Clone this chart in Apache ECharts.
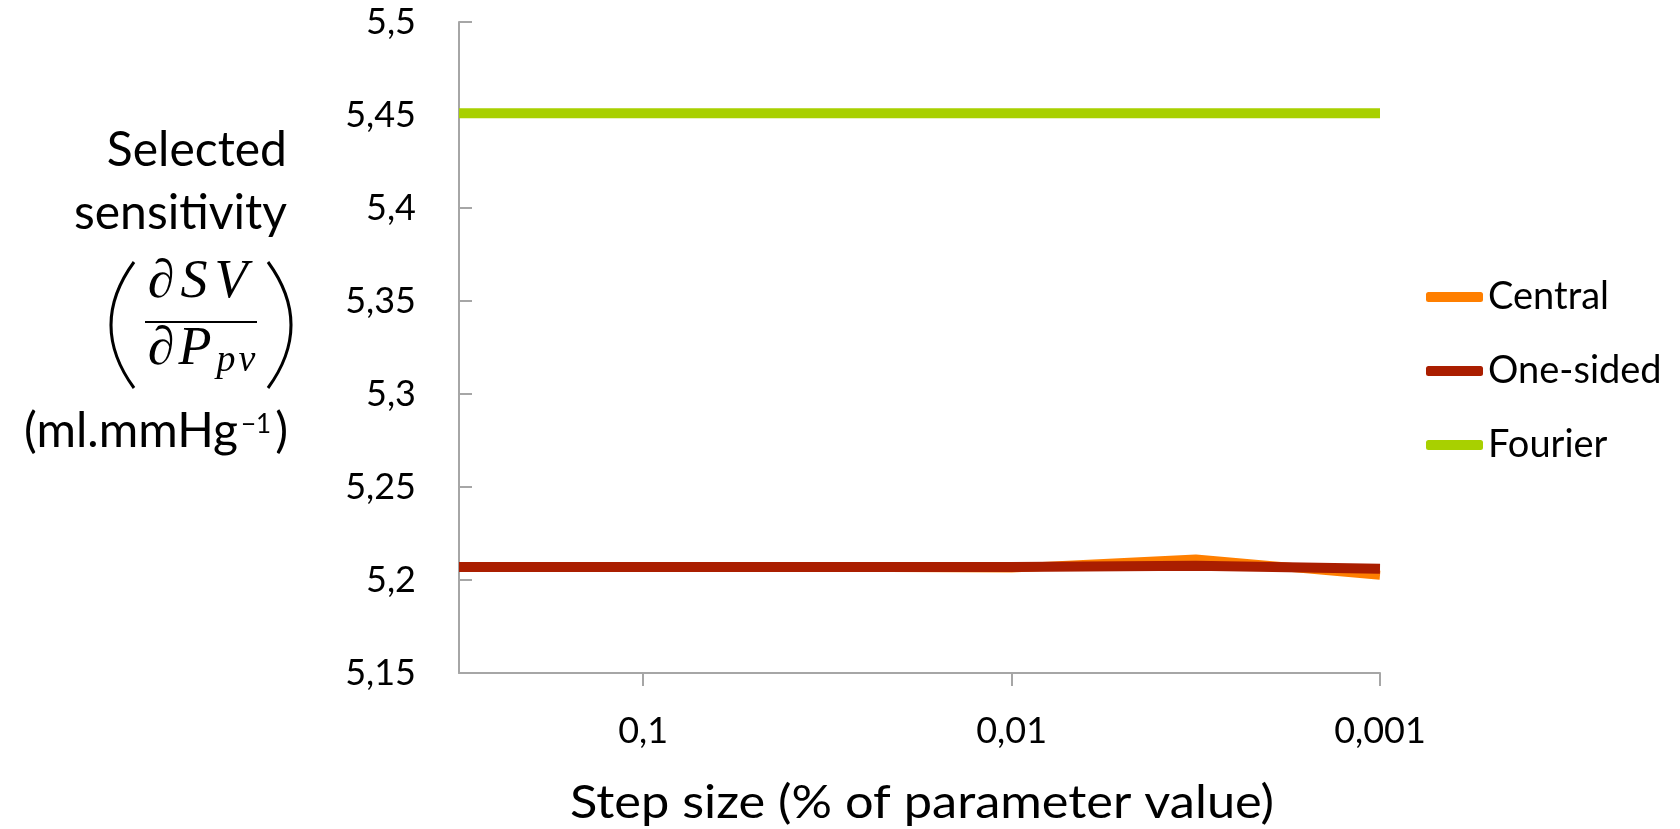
<!DOCTYPE html>
<html>
<head>
<meta charset="utf-8">
<script src="https://cdn.jsdelivr.net/npm/echarts@6/dist/echarts.min.js"></script>
<style>
html,body{margin:0;padding:0;background:#fff;}
#chart{width:1680px;height:829px;}
</style>
</head>
<body>
<div id="chart"></div>
<script>
// Step sizes (% of parameter value), evenly spaced categories
const categories = ['0,5', '0,1', '0,05', '0,01', '0,005', '0,001'];
const central  = [5.207, 5.207, 5.2068, 5.2064, 5.2113, 5.2025];
const oneSided = [5.207, 5.207, 5.207, 5.207, 5.2076, 5.206];
const fourier  = [5.451, 5.451, 5.451, 5.451, 5.451, 5.451];
const yMin = 5.15, yMax = 5.5, yStep = 0.05;

const FONT = 'Lato';
const SERIF = 'Liberation Serif';
const AXIS_COLOR = '#A6A6A6';

const chart = echarts.init(document.getElementById('chart'));
const fmt = v => parseFloat(v.toFixed(2)).toString().replace('.', ',');

function mathGlyph(ch, x, y, size) {
  return { type: 'text', style: { text: ch, x: x, y: y, align: 'center', verticalAlign: 'middle',
    fontFamily: SERIF, fontStyle: 'italic', fontSize: size, fill: '#000' } };
}

chart.setOption({
  animation: false,
  backgroundColor: '#fff',
  textStyle: { fontFamily: FONT },
  grid: { left: 459, right: 300, top: 22, bottom: 156, containLabel: false },
  legend: {
    orient: 'vertical',
    left: 1421,
    top: 272,
    itemWidth: 57,
    itemHeight: 10,
    itemGap: 34,
    icon: 'roundRect',
    textStyle: { fontFamily: FONT, fontSize: 38, color: '#000', lineHeight: 40 },
    data: ['Central', 'One-sided', 'Fourier']
  },
  xAxis: {
    type: 'category',
    data: categories,
    boundaryGap: false,
    axisLine: { lineStyle: { color: AXIS_COLOR, width: 2 } },
    axisTick: { show: true, length: 13, interval: i => i % 2 === 1, lineStyle: { color: AXIS_COLOR, width: 2 } },
    axisLabel: { interval: i => i % 2 === 1, fontFamily: FONT, fontSize: 36, color: '#000', margin: 40 },
    splitLine: { show: false }
  },
  yAxis: {
    type: 'value',
    min: yMin, max: yMax, interval: yStep,
    axisLine: { show: true, lineStyle: { color: AXIS_COLOR, width: 2 } },
    axisTick: { show: true, inside: true, length: 13, lineStyle: { color: AXIS_COLOR, width: 2 } },
    axisLabel: { fontFamily: FONT, fontSize: 36, color: '#000', margin: 43, formatter: fmt },
    splitLine: { show: false }
  },
  series: [
    { name: 'Central', type: 'line', data: central, symbol: 'none', lineStyle: { color: '#FF7F00', width: 9 }, itemStyle: { color: '#FF7F00' } },
    { name: 'One-sided', type: 'line', data: oneSided, symbol: 'none', lineStyle: { color: '#AA1E00', width: 10 }, itemStyle: { color: '#AA1E00' } },
    { name: 'Fourier', type: 'line', data: fourier, symbol: 'none', lineStyle: { color: '#A8D000', width: 10 }, itemStyle: { color: '#A8D000' } }
  ],
  graphic: [
    // x-axis title
    { type: 'text', x: 922, y: 803, scaleX: 1.075, style: { text: 'Step size (% of parameter value)', x: 0, y: 0, align: 'center', verticalAlign: 'middle', fontFamily: FONT, fontSize: 47, fill: '#000' } },
    // y-axis title
    { type: 'text', style: { text: 'Selected', x: 287, y: 151, align: 'right', verticalAlign: 'middle', fontFamily: FONT, fontSize: 48, fill: '#000' } },
    { type: 'text', style: { text: 'sensitivity', x: 287, y: 214, align: 'right', verticalAlign: 'middle', fontFamily: FONT, fontSize: 48, fill: '#000' } },
    { type: 'text', style: { text: '(ml.mmHg', x: 238, y: 432, align: 'right', verticalAlign: 'middle', fontFamily: FONT, fontSize: 48, fill: '#000' } },
    { type: 'text', style: { text: '−1', x: 256, y: 425, align: 'center', verticalAlign: 'middle', fontFamily: FONT, fontSize: 26, fill: '#000' } },
    { type: 'text', style: { text: ')', x: 288, y: 432, align: 'right', verticalAlign: 'middle', fontFamily: FONT, fontSize: 48, fill: '#000' } },
    // fraction dSV / dP_pv
    mathGlyph('∂', 161, 283, 54),
    mathGlyph('S', 194, 283, 54),
    mathGlyph('V', 231, 283, 54),
    { type: 'line', shape: { x1: 145, y1: 322, x2: 257, y2: 322 }, style: { stroke: '#000', lineWidth: 2 } },
    mathGlyph('∂', 161, 350, 54),
    mathGlyph('P', 195, 350, 54),
    mathGlyph('p', 226, 361, 38),
    mathGlyph('v', 247, 361, 38),
    { type: 'bezierCurve', shape: { x1: 134, y1: 262, cpx1: 88, cpy1: 325, x2: 134, y2: 388 }, style: { stroke: '#000', lineWidth: 3, fill: null } },
    { type: 'bezierCurve', shape: { x1: 268, y1: 262, cpx1: 314, cpy1: 325, x2: 268, y2: 388 }, style: { stroke: '#000', lineWidth: 3, fill: null } }
  ]
});
</script>
</body>
</html>
